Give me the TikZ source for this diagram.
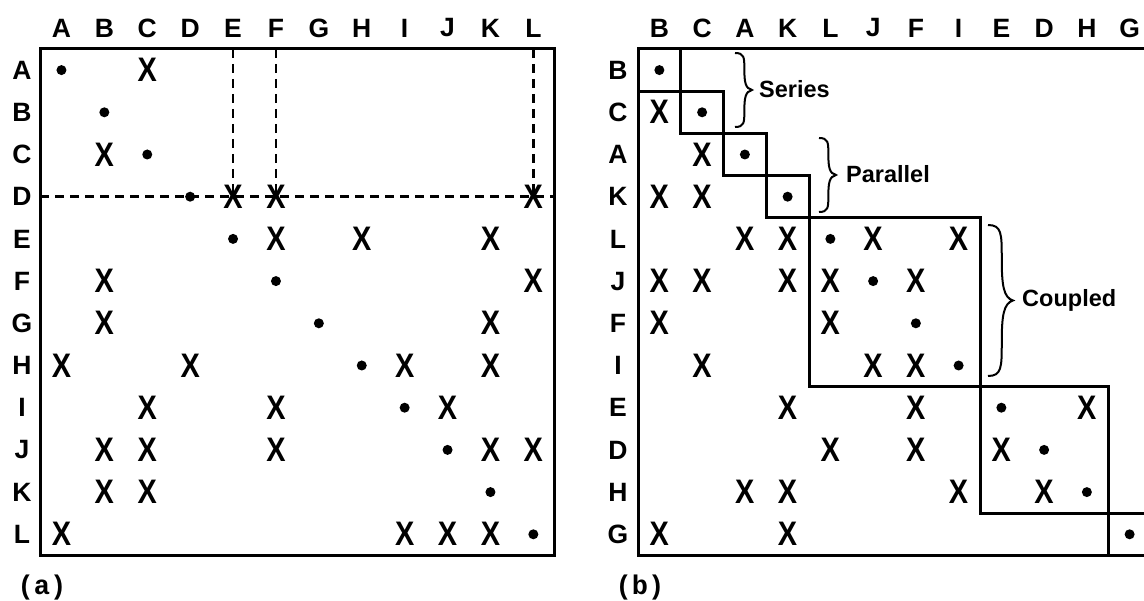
\documentclass[tikz,border=0pt]{standalone}
\usepackage{fontspec}
\setmainfont{Liberation Sans}
\newfontfamily\capfont{Liberation Mono}
\usetikzlibrary{calc}
\newcommand\curlybrace[4]{%
 \pgfmathsetmacro\cbX{#1}\pgfmathsetmacro\cbT{#2}\pgfmathsetmacro\cbB{#3}\pgfmathsetmacro\cbW{#4}%
 \pgfmathsetmacro\cbH{\cbT-\cbB}\pgfmathsetmacro\cbM{(\cbT+\cbB)/2}%
 \draw[brc] (\cbX,\cbT) .. controls ({\cbX+0.55*\cbW},\cbT) and ({\cbX+0.55*\cbW},{\cbT-0.06*\cbH}) .. ({\cbX+0.55*\cbW},{\cbT-0.22*\cbH})
   .. controls ({\cbX+0.55*\cbW},{\cbM+0.1*\cbH}) and ({\cbX+0.62*\cbW},{\cbM+0.02*\cbH}) .. ({\cbX+\cbW},\cbM)
   .. controls ({\cbX+0.62*\cbW},{\cbM-0.02*\cbH}) and ({\cbX+0.55*\cbW},{\cbM-0.1*\cbH}) .. ({\cbX+0.55*\cbW},{\cbB+0.22*\cbH})
   .. controls ({\cbX+0.55*\cbW},{\cbB+0.06*\cbH}) and ({\cbX+0.55*\cbW},\cbB) .. (\cbX,\cbB);}
\begin{document}
\begin{tikzpicture}[x=1pt,y=1pt,
  hdr/.style={font=\fontsize{26.5}{26.5}\selectfont\bfseries, inner sep=0pt},
  xm/.style={font=\fontsize{34}{34}\selectfont\bfseries, inner sep=0pt, xscale=0.85, transform shape},
  dotm/.style={circle, fill=black, inner sep=0pt, minimum size=10pt},
  grid/.style={line width=3pt},
  dsh/.style={line width=2.6pt, dash pattern=on 9pt off 6pt},
  lbl/.style={font=\fontsize{23.5}{23.5}\selectfont\bfseries, inner sep=0pt, anchor=west},
  capt/.style={font=\capfont\bfseries\fontsize{27}{27}\selectfont, inner sep=0pt},
  brc/.style={line width=2pt}]
\path[use as bounding box] (0,0) rectangle (1144,-601);
\clip (0,0) rectangle (1144,-601);

% ---------------- (a) ----------------
\foreach \l [count=\i from 0] in {A,B,C,D,E,F,G,H,I,J,K,L} {
  \node[hdr] (ah\l) at ({40+42.9*(\i+0.5)},-28) {\l};
  \node[hdr] (ar\l) at (22,{-49-42.2*(\i+0.5)}) {\l};
  \node[dotm] (ad\i) at ({40+42.9*(\i+0.5)},{-49-42.2*(\i+0.5)}) {};
}
\coordinate (aTL) at (40,-49);
\coordinate (aBR) at (554.8,-555.4);
\foreach \c/\r in {2/0, 1/2, 4/3, 5/3, 11/3, 5/4, 7/4, 10/4, 1/5, 11/5,
  1/6, 10/6, 0/7, 3/7, 8/7, 10/7, 2/8, 5/8, 9/8, 1/9, 2/9, 5/9, 10/9, 11/9,
  1/10, 2/10, 0/11, 8/11, 9/11, 10/11} {
  \node[xm] (ax-\c-\r) at ({40+42.9*(\c+0.5)},{-49-42.2*(\r+0.5)}) {X};
}
% dashed lines
\coordinate (atE) at ({40+42.9*4.5},-49);
\coordinate (atF) at ({40+42.9*5.5},-49);
\coordinate (atL) at ({40+42.9*11.5},-49);
\coordinate (alD) at (40,{-49-42.2*3.5});
\coordinate (arD) at (554.8,{-49-42.2*3.5});
\draw[dsh] (atE) -- (ax-4-3.center);
\draw[dsh] (atF) -- (ax-5-3.center);
\draw[dsh] (atL) -- (ax-11-3.center);
\draw[dsh] (alD) -- (arD);
\draw[grid] (aTL) rectangle (aBR);
\node[capt] (capa) at (42,-588) {(a)};

% ---------------- (b) ----------------
\foreach \l [count=\i from 0] in {B,C,A,K,L,J,F,I,E,D,H,G} {
  \node[hdr] (bh\l) at ({638+42.75*(\i+0.5)},-28) {\l};
  \node[hdr] (br\l) at (618,{-49-42.2*(\i+0.5)}) {\l};
  \node[dotm] (bd\i) at ({638+42.75*(\i+0.5)},{-49-42.2*(\i+0.5)}) {};
}
\foreach \c/\r in {0/1, 1/2, 0/3, 1/3, 2/4, 3/4, 5/4, 7/4,
  0/5, 1/5, 3/5, 4/5, 6/5, 0/6, 4/6, 1/7, 5/7, 6/7,
  3/8, 6/8, 10/8, 4/9, 6/9, 8/9, 2/10, 3/10, 7/10, 9/10, 0/11, 3/11} {
  \node[xm] (bx-\c-\r) at ({638+42.75*(\c+0.5)},{-49-42.2*(\r+0.5)}) {X};
}
\coordinate (bTL) at (638,-49);
\coordinate (bBR) at ({638+42.75*12},-555.4);
\draw[grid] (bTL) rectangle (bBR);
\foreach \a/\b in {0/1, 1/2, 2/3, 3/4, 4/8, 8/11, 11/12} {
  \draw[grid] ({638+42.75*\a},{-49-42.2*\a}) rectangle ({638+42.75*\b},{-49-42.2*\b});
}
% braces
\curlybrace{735}{-53}{-127}{17}
\curlybrace{819}{-138}{-212}{17}
\curlybrace{988}{-225}{-376}{25}
\node[lbl] (series) at (759,-89) {Series};
\node[lbl] (parallel) at (846,-174) {Parallel};
\node[lbl] (coupled) at (1022,-300) {Coupled};
\node[capt] (capb) at (640,-588) {(b)};
\end{tikzpicture}
\end{document}
